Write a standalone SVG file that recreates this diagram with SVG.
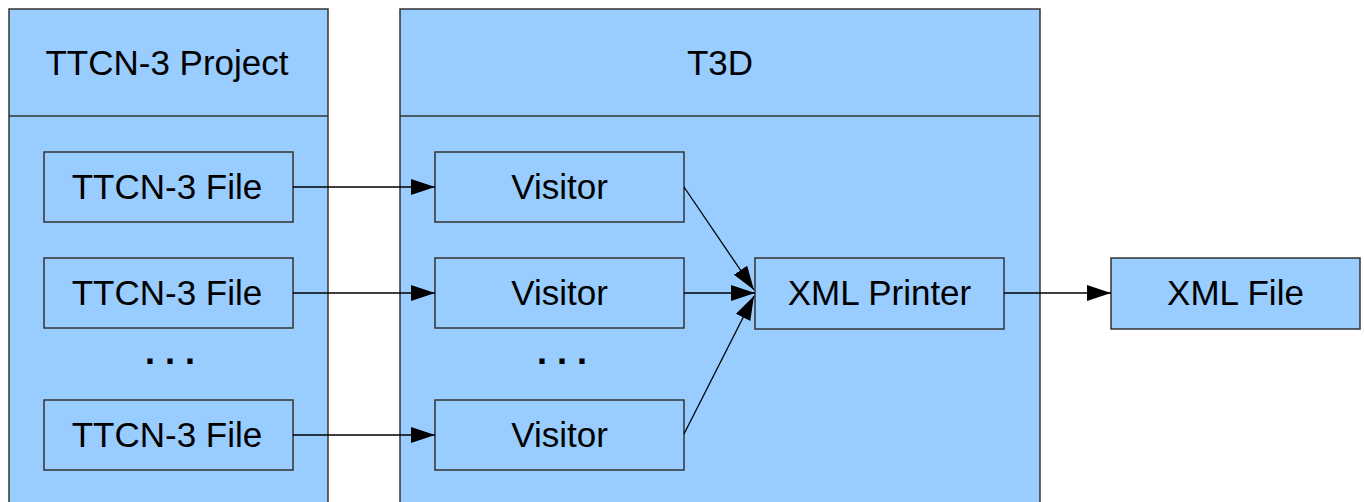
<svg xmlns="http://www.w3.org/2000/svg" width="1364" height="502" viewBox="0 0 1364 502">
<style>
.box{fill:#99ccff;stroke:#333;stroke-width:1.5}
.t{font-family:"Liberation Sans",Arial,sans-serif;font-size:35px;fill:#000;text-anchor:middle}
.d{font-family:"Liberation Sans",Arial,sans-serif;font-size:36px;font-weight:bold;fill:#000;text-anchor:middle}
.c{stroke:#000;stroke-width:1.3;fill:none}
</style>
<defs>
<marker id="ah" viewBox="0 0 24 16" refX="24" refY="8" markerWidth="24" markerHeight="16" markerUnits="userSpaceOnUse" orient="auto">
<path d="M0,0 L24,8 L0,16 Z" fill="#000"/>
</marker>
</defs>
<rect width="1364" height="502" fill="#fff"/>
<g id="project">
<rect class="box" x="9" y="9" width="319" height="510"/>
<line x1="9" y1="116" x2="328" y2="116" stroke="#333" stroke-width="1.5"/>
<text class="t" x="167" y="75">TTCN-3 Project</text>
<text class="d" x="170" y="364">. . .</text>
</g>
<g id="t3d">
<rect class="box" x="400" y="9" width="640" height="510"/>
<line x1="400" y1="116" x2="1040" y2="116" stroke="#333" stroke-width="1.5"/>
<text class="t" x="720" y="75">T3D</text>
<text class="d" x="562" y="364">. . .</text>
</g>
<g id="file1"><rect class="box" x="44" y="152" width="249" height="70"/><text class="t" x="167" y="199">TTCN-3 File</text></g>
<g id="file2"><rect class="box" x="44" y="258" width="249" height="70"/><text class="t" x="167" y="305">TTCN-3 File</text></g>
<g id="file3"><rect class="box" x="44" y="400" width="249" height="70"/><text class="t" x="167" y="447">TTCN-3 File</text></g>
<g id="visitor1"><rect class="box" x="435" y="152" width="249" height="70"/><text class="t" x="559.5" y="199">Visitor</text></g>
<g id="visitor2"><rect class="box" x="435" y="258" width="249" height="70"/><text class="t" x="559.5" y="305">Visitor</text></g>
<g id="visitor3"><rect class="box" x="435" y="400" width="249" height="70"/><text class="t" x="559.5" y="447">Visitor</text></g>
<g id="printer"><rect class="box" x="755" y="258" width="249" height="71"/><text class="t" x="879.5" y="305">XML Printer</text></g>
<g id="xmlfile"><rect class="box" x="1111" y="258" width="249" height="71"/><text class="t" x="1235.5" y="305">XML File</text></g>
<g id="connectors">
<line class="c" x1="293" y1="187" x2="435" y2="187" marker-end="url(#ah)"/>
<line class="c" x1="293" y1="293" x2="435" y2="293" marker-end="url(#ah)"/>
<line class="c" x1="293" y1="435" x2="435" y2="435" marker-end="url(#ah)"/>
<line class="c" x1="684" y1="187" x2="754" y2="290" marker-end="url(#ah)"/>
<line class="c" x1="684" y1="293" x2="755" y2="293" marker-end="url(#ah)"/>
<line class="c" x1="684" y1="434" x2="754" y2="296" marker-end="url(#ah)"/>
<line class="c" x1="1004" y1="293" x2="1111" y2="293" marker-end="url(#ah)"/>
</g>
</svg>
